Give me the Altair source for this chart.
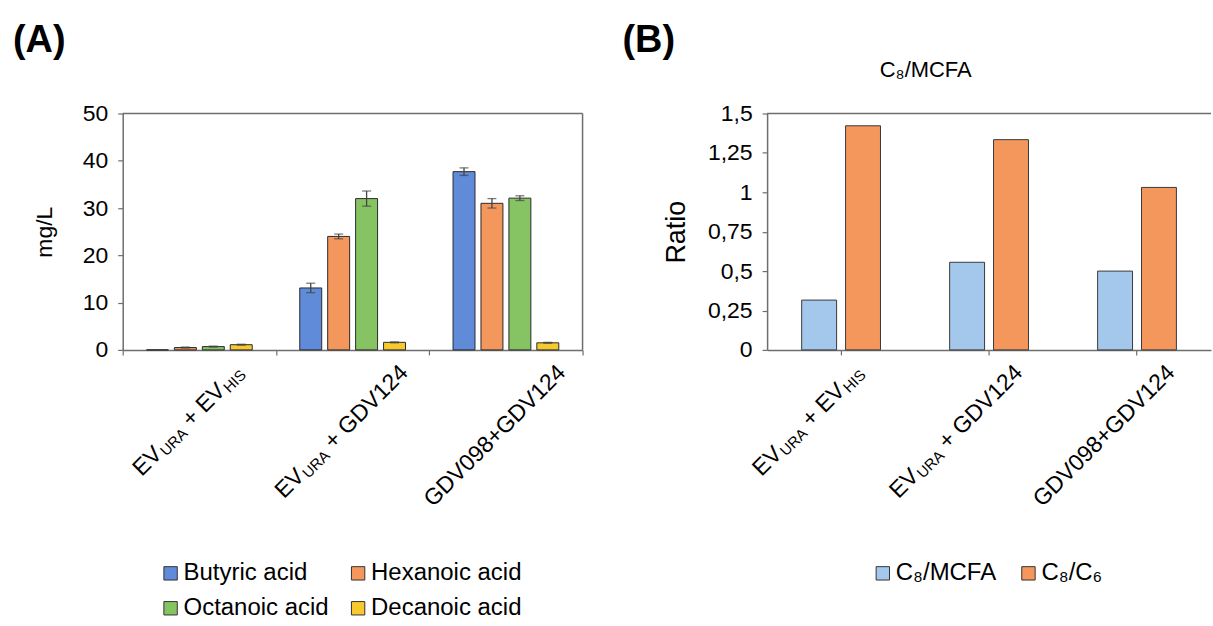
import altair as alt
import pandas as pd

FONT = "Liberation Sans"
AXIS_COLOR = "#6e6e6e"

# ---------------- data ----------------
categories = ["EV_URA + EV_HIS", "EV_URA + GDV124", "GDV098+GDV124"]
# tick label pieces (text, kind) -> kind "sub" is a subscript
label_parts = [
    [("EV", "main"), ("URA", "sub"), (" + EV", "main"), ("HIS", "sub")],
    [("EV", "main"), ("URA", "sub"), (" + GDV124", "main")],
    [("GDV098+GDV124", "main")],
]

acids = ["Butyric acid", "Hexanoic acid", "Octanoic acid", "Decanoic acid"]
butyric = [0.0, 13.1, 37.7]
hexanoic = [0.5, 24.0, 31.0]
octanoic = [0.7, 32.0, 32.1]
decanoic = [1.1, 1.6, 1.5]
butyric_err = [0.0, 1.0, 0.8]
hexanoic_err = [0.1, 0.5, 1.0]
octanoic_err = [0.1, 1.6, 0.5]
decanoic_err = [0.1, 0.1, 0.1]
acid_colors = ["#5F8BD9", "#F4975C", "#86C363", "#F8C92C"]

ratios = ["C₈/MCFA", "C₈/C₆"]
c8_mcfa = [0.316, 0.556, 0.50]
c8_c6 = [1.422, 1.334, 1.031]
ratio_colors = ["#A3C8EC", "#F4975C"]

y_ticks_a = [0, 10, 20, 30, 40, 50]
y_ticks_b = [0, 0.25, 0.5, 0.75, 1, 1.25, 1.5]

# ---------------- tables ----------------
rows = []
for vals, errs, acid in zip([butyric, hexanoic, octanoic, decanoic],
                            [butyric_err, hexanoic_err, octanoic_err, decanoic_err], acids):
    for cat, v, e in zip(categories, vals, errs):
        rows.append({"cat": cat, "acid": acid, "value": v, "err": e, "lo": v - e, "hi": v + e})
df_a = pd.DataFrame(rows)

rows = []
for vals, r in zip([c8_mcfa, c8_c6], ratios):
    for cat, v in zip(categories, vals):
        rows.append({"cat": cat, "ratio": r, "value": v})
df_b = pd.DataFrame(rows)

# ---------------- label layout helpers ----------------
W = {'E': 667, 'V': 667, 'U': 722, 'R': 722, 'A': 667, 'H': 722, 'I': 278, 'S': 667,
     ' ': 278, '+': 584, 'G': 778, 'D': 722}
MAIN, SUB, SUB_SHIFT = 23, 15, 3


def text_width(s, size):
    return sum(W.get(ch, 556) for ch in s) * size / 1000.0


def label_layers(x_enc, H, off_x):
    layers = []
    for cat, parts in zip(categories, label_parts):
        total = sum(text_width(t, SUB if k == "sub" else MAIN) + (1 if k == "sub" else 0)
                    for t, k in parts)
        ox = off_x - (0.7071 * total - 12) / 2
        oy = 24 + 0.7071 * total
        dx0 = 0.7071 * (ox - oy)
        dy0 = 0.7071 * (ox + oy)
        cum = 0.0
        for t, k in parts:
            fs = SUB if k == "sub" else MAIN
            if k == "sub":
                cum += 1
            lead = len(t) - len(t.lstrip(" "))
            start = cum + text_width(" " * lead, fs)
            layers.append(
                alt.Chart(pd.DataFrame({"cat": [cat], "t": [t.strip()]}))
                .mark_text(angle=315, align="left", baseline="alphabetic", font=FONT,
                           fontSize=fs, dx=dx0 + start,
                           dy=dy0 + (SUB_SHIFT if k == "sub" else 0), color="black")
                .encode(x=x_enc, y=alt.value(H), text="t:N")
            )
            cum += text_width(t, fs)
    return layers


def frame(Wd, H, right=True):
    one = pd.DataFrame({"a": [0]})
    out = [alt.Chart(one).mark_rule(color=AXIS_COLOR, strokeWidth=1.5)
           .encode(x=alt.value(0), x2=alt.value(Wd), y=alt.value(0))]
    if right:
        out.append(alt.Chart(one).mark_rule(color=AXIS_COLOR, strokeWidth=1.5)
                   .encode(x=alt.value(Wd), y=alt.value(0), y2=alt.value(H)))
    return out


def tag(text, x, y, size, weight="normal", align="left"):
    return (alt.Chart(pd.DataFrame({"t": [text]}))
            .mark_text(font=FONT, fontSize=size, fontWeight=weight, align=align,
                       baseline="alphabetic", color="black")
            .encode(x=alt.value(x), y=alt.value(y), text="t:N"))


# ---------------- panel A ----------------
WA, HA = 461, 237
x_a = alt.X("cat:N", title=None,
            scale=alt.Scale(domain=categories, paddingInner=0, paddingOuter=0),
            axis=alt.Axis(labels=False, ticks=True, tickSize=5, tickBand="extent",
                          tickColor=AXIS_COLOR, domainColor=AXIS_COLOR, domainWidth=1.5,
                          tickWidth=1.2, title=None))
xo_a = alt.XOffset("acid:N", scale=alt.Scale(domain=acids, paddingInner=0.214, paddingOuter=0.851))
y_scale_a = alt.Scale(domain=[0, 50], nice=False)
y_axis_a = alt.Axis(values=y_ticks_a, grid=False, tickSize=5, tickColor=AXIS_COLOR, tickWidth=1.2,
                    domainColor=AXIS_COLOR, domainWidth=1.5, labelFont=FONT, labelFontSize=23,
                    labelColor="black", labelPadding=10, titleFont=FONT, titleFontSize=23,
                    titleFontWeight="normal", titleColor="black", titlePadding=26)

bars_a = alt.Chart(df_a).mark_bar(stroke="#2b2b2b", strokeWidth=1).encode(
    x=x_a, xOffset=xo_a,
    y=alt.Y("value:Q", scale=y_scale_a, axis=y_axis_a, title="mg/L"),
    color=alt.Color("acid:N", scale=alt.Scale(domain=acids, range=acid_colors),
                    legend=alt.Legend(title=None, orient="none", legendX=36, legendY=449,
                                      direction="horizontal", columns=2, symbolType="square",
                                      symbolSize=180, symbolStrokeColor="#333333",
                                      symbolStrokeWidth=1, symbolOpacity=1,
                                      labelFont=FONT, labelFontSize=24, labelColor="black",
                                      labelOffset=1, columnPadding=17, rowPadding=11,
                                      padding=0, labelLimit=0)),
)
err_base = alt.Chart(df_a).transform_filter("datum.err > 0")
err_rule = err_base.mark_rule(color="#444444", strokeWidth=1.3).encode(
    x=x_a, xOffset=xo_a,
    y=alt.Y("lo:Q", scale=y_scale_a, axis=y_axis_a, title="mg/L"), y2="hi:Q")
cap_hi = err_base.mark_tick(color="#444444", thickness=1.3, size=9, orient="horizontal").encode(
    x=x_a, xOffset=xo_a, y=alt.Y("hi:Q", scale=y_scale_a, axis=y_axis_a, title="mg/L"))
cap_lo = err_base.mark_tick(color="#444444", thickness=1.3, size=9, orient="horizontal").encode(
    x=x_a, xOffset=xo_a, y=alt.Y("lo:Q", scale=y_scale_a, axis=y_axis_a, title="mg/L"))

panel_a = alt.layer(
    *frame(WA, HA, right=True), bars_a, err_rule, cap_hi, cap_lo,
    *label_layers(x_a, HA, -12),
    tag("(A)", -110, -62, 38, "bold"),
).properties(width=WA, height=HA)

# ---------------- panel B ----------------
WB, HB = 445, 237
x_b = alt.X("cat:N", title=None,
            scale=alt.Scale(domain=categories, paddingInner=0, paddingOuter=0),
            axis=alt.Axis(labels=False, ticks=True, tickSize=5, tickBand="center",
                          bandPosition=0.5, tickColor=AXIS_COLOR, tickWidth=1.2,
                          domainColor=AXIS_COLOR, domainWidth=1.5, title=None))
xo_b = alt.XOffset("ratio:N", scale=alt.Scale(domain=ratios, paddingInner=0.2045, paddingOuter=0.788))
y_axis_b = alt.Axis(values=y_ticks_b, grid=False,
                    labelExpr="replace(toString(datum.value), '.', ',')",
                    tickSize=5, tickColor=AXIS_COLOR, tickWidth=1.2,
                    domainColor=AXIS_COLOR, domainWidth=1.5, labelFont=FONT, labelFontSize=23,
                    labelColor="black", labelPadding=10, titleFont=FONT, titleFontSize=27,
                    titleFontWeight="normal", titleColor="black", titlePadding=17)

bars_b = alt.Chart(df_b).mark_bar(stroke="#3a3a3a", strokeWidth=1).encode(
    x=x_b, xOffset=xo_b,
    y=alt.Y("value:Q", scale=alt.Scale(domain=[0, 1.5], nice=False), axis=y_axis_b, title="Ratio"),
    color=alt.Color("ratio:N", scale=alt.Scale(domain=ratios, range=ratio_colors),
                    legend=alt.Legend(title=None, orient="none", legendX=104, legendY=449,
                                      direction="horizontal", columns=2, symbolType="square",
                                      symbolSize=180, symbolStrokeColor="#333333",
                                      symbolStrokeWidth=1, symbolOpacity=1,
                                      labelFont=FONT, labelFontSize=24, labelColor="black",
                                      labelOffset=1, columnPadding=20, padding=0, labelLimit=0)),
)

panel_b = alt.layer(
    *frame(WB, HB, right=False), bars_b,
    *label_layers(x_b, HB, -34),
    tag("(B)", -145, -62, 38, "bold"),
    tag("C₈/MCFA", 159, -37, 22, align="center"),
).properties(width=WB, height=HB)

chart = (
    alt.hconcat(panel_a, panel_b, spacing=37)
    .resolve_scale(color="independent", x="independent", y="independent", xOffset="independent")
    .configure_view(stroke="transparent")
    .properties(padding={"left": 12, "top": 20, "right": 0, "bottom": 0}, background="white")
)

chart.save("out.html", embed_options={"renderer": "svg", "actions": False})
